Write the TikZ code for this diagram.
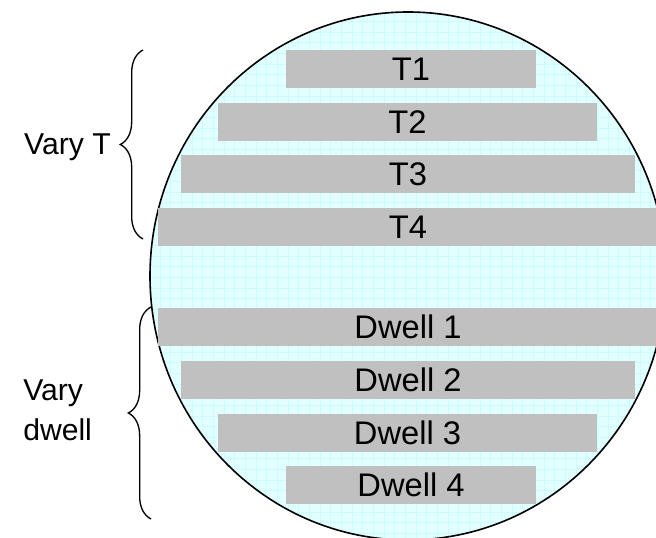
\documentclass[tikz,border=0pt]{standalone}
\usepackage{fontspec}
\setmainfont{Liberation Sans}
\usepackage{xcolor}
\usetikzlibrary{decorations.pathreplacing}
\definecolor{waferfill}{RGB}{226,255,255}
\definecolor{wafergrid}{RGB}{204,250,255}
\definecolor{stripgray}{RGB}{192,192,192}
\tikzstyle{strip} = [fill=stripgray, rectangle, inner sep=0,
    minimum height=28.5pt, font=\fontsize{24.5}{28}\selectfont]
\tikzstyle{grouplabel} = [inner sep=0, font=\fontsize{22.6}{30}\selectfont]
\tikzstyle{curly} = [decorate, decoration={brace, amplitude=17pt}, line width=1pt]

\begin{document}
\begin{tikzpicture}[x=0.75pt,y=-0.75pt]
\clip (0,0) rectangle (656,538);
% wafer with its grid
\begin{scope}
    \clip (408,276) ellipse (258 and 264);
    \fill[waferfill] (140,0) rectangle (680,550);
    \draw[wafergrid, line width=0.5pt, step=8pt] (140,0) grid (680,550);
\end{scope}
\draw[line width=1.2pt] (408,276) ellipse (258 and 264);

% strips
\node[strip, minimum width=187.5pt] (t1) at (411,69) {T1};
\node[strip, minimum width=284pt] (t2) at (407.5,122) {T2};
\node[strip, minimum width=340.5pt] (t3) at (408,174.5) {T3};
\node[strip, minimum width=375pt] (t4) at (408,227) {T4};
\node[strip, minimum width=375pt] (d1) at (408,326.5) {Dwell 1};
\node[strip, minimum width=340.5pt] (d2) at (408,379.5) {Dwell 2};
\node[strip, minimum width=284pt] (d3) at (407.5,432.5) {Dwell 3};
\node[strip, minimum width=187.5pt] (d4) at (411,485) {Dwell 4};

% braces and their labels
\coordinate (vtTop) at (143,50);
\coordinate (vtBot) at (143,239);
\draw[curly] (vtBot) -- (vtTop);
\node[grouplabel, anchor=base east] (varyT) at (111,155) {Vary T};

\coordinate (vdTop) at (151,307);
\coordinate (vdBot) at (151,519);
\draw[curly] (vdBot) -- (vdTop);
\node[grouplabel, align=left, anchor=west] (varyD) at (23,410) {Vary\\dwell};
\end{tikzpicture}
\end{document}
